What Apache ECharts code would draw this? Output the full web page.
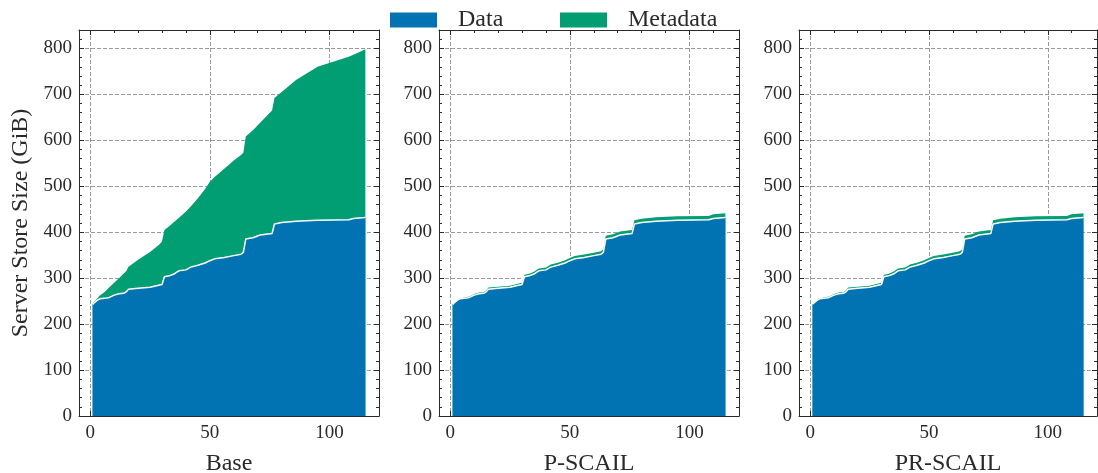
<!DOCTYPE html>
<html>
<head>
<meta charset="utf-8">
<script src="https://cdn.jsdelivr.net/npm/echarts@6/dist/echarts.min.js"></script>
<style>
  html, body { margin: 0; padding: 0; background: #fff; }
  #chartmain { width: 1098px; height: 473px; }
</style>
</head>
<body>
<div id="chartmain"></div>
<script>
// x positions (step index) where the curves were read
var steps = [1, 2, 3, 4, 6, 8, 10, 12, 14, 15, 16, 20, 25, 29, 30, 31, 33, 35, 37, 40,
	42, 45, 48, 50, 52, 56, 60, 63, 64, 65, 68, 71, 76, 77, 80, 86, 95, 108, 110, 115];
// data volume, same in all three panels (GiB)
var dataGiB = [243, 248, 252, 255, 256, 258, 263, 266, 267, 270, 276, 278, 280, 285, 286, 303, 305, 309, 316, 318,
	324, 328, 333, 338, 342, 345, 349, 352, 356, 385, 388, 394, 397, 418, 421, 424, 426, 427, 430, 432];
// metadata on top of data (GiB)
var baseMeta = [2, 3, 4, 7, 14, 22, 27, 34, 43, 45, 49, 62, 77, 89, 94, 102, 108, 113, 115, 127,
	132, 146, 161, 172, 178, 193, 207, 216, 217, 223, 234, 244, 268, 274, 284, 307, 334, 355, 356, 366];
var pscailMeta = [1, 1, 1.5, 1.5, 2, 2, 2.5, 2.5, 3, 3, 3.5, 3.5, 3.5, 4, 4, 4.5, 4.5, 5, 5, 5,
	5.5, 5.5, 6, 6, 6, 6.5, 6.5, 6.5, 7, 7.5, 7.5, 7.5, 8, 8, 8, 8.5, 8.5, 8.5, 9, 9];
var prscailMeta = [1, 1, 1.5, 1.5, 2, 2, 2.5, 2.5, 3, 3, 3.5, 3.5, 3.5, 4, 4, 4.5, 4.5, 5, 5, 5,
	5.5, 5.5, 6, 6, 6, 6.5, 6.5, 6.5, 7, 7.5, 7.5, 7.5, 8, 8, 8, 8.5, 8.5, 8.5, 9, 9];

var panelNames = ['Base', 'P-SCAIL', 'PR-SCAIL'];
var panelMeta = [baseMeta, pscailMeta, prscailMeta];

var xMajorTicks = [0, 50, 100];
var xMinorTicks = [10, 20, 30, 40, 60, 70, 80, 90, 110];
var yMajorTicks = [0, 100, 200, 300, 400, 500, 600, 700, 800];
var yMinorTicks = [20, 40, 60, 80, 120, 140, 160, 180, 220, 240, 260, 280, 320, 340, 360, 380,
	420, 440, 460, 480, 520, 540, 560, 580, 620, 640, 660, 680, 720, 740, 760, 780, 820];

var BLUE = '#0173b2';
var GREEN = '#029e73';
var INK = '#2a2a2a';
var FONT = 'Liberation Serif';

var xMin = -4.7, xMax = 120.7;
var yMin = 0, yMax = 840;

var gridLefts = [79, 439, 799];
var grids = [], xAxes = [], yAxes = [], series = [];

function xAx(gi, extra) {
	var a = {
		gridIndex : gi,
		type : 'value',
		min : xMin,
		max : xMax,
		splitNumber : 2,
		position : 'bottom',
		axisLine : { show : false, onZero : false },
		axisTick : { show : false },
		axisLabel : { show : false },
		splitLine : { show : false }
	};
	return Object.assign(a, extra);
}
function yAx(gi, extra) {
	var a = {
		gridIndex : gi,
		type : 'value',
		min : yMin,
		max : yMax,
		interval : 100,
		position : 'left',
		axisLine : { show : false, onZero : false },
		axisTick : { show : false },
		axisLabel : { show : false },
		splitLine : { show : false }
	};
	return Object.assign(a, extra);
}

var spine = { show : true, onZero : false, lineStyle : { color : INK, width : 1 } };
var dashStyle = { color : '#9a9a9a', width : 1, type : [4, 2] };

for (var gi = 0; gi < 3; gi++) {
	grids.push({
		left : gridLefts[gi],
		top : 30,
		width : gi == 2 ? 298 : 300,
		bottom : 57,
		outerBoundsMode : 'none'
	});

	// x axes: main bottom, bottom minor, top major, top minor, bottom spine over areas
	xAxes.push(xAx(gi, {
		axisTick : { show : true, inside : true, length : 5, customValues : xMajorTicks, lineStyle : { color : INK } },
		axisLabel : { show : true, customValues : xMajorTicks,
			margin : 8, fontFamily : FONT, fontSize : 19, color : INK },
		splitLine : { show : true, lineStyle : dashStyle },
		name : panelNames[gi],
		nameLocation : 'middle',
		nameGap : 36,
		nameTextStyle : { fontFamily : FONT, fontSize : 24, color : INK }
	}));
	xAxes.push(xAx(gi, {
		axisTick : { show : true, inside : true, length : 3, customValues : xMinorTicks, lineStyle : { color : INK } }
	}));
	xAxes.push(xAx(gi, {
		position : 'top',
		axisLine : spine,
		axisTick : { show : true, inside : true, length : 5, customValues : xMajorTicks, lineStyle : { color : INK } }
	}));
	xAxes.push(xAx(gi, {
		position : 'top',
		axisTick : { show : true, inside : true, length : 3, customValues : xMinorTicks, lineStyle : { color : INK } }
	}));
	xAxes.push(xAx(gi, { axisLine : spine, z : 5 }));

	// y axes: main left, left minor, right major, right minor
	yAxes.push(yAx(gi, {
		axisLine : spine,
		axisTick : { show : true, inside : true, length : 5, customValues : yMajorTicks, lineStyle : { color : INK } },
		axisLabel : { show : true, customValues : yMajorTicks,
			margin : 7, fontFamily : FONT, fontSize : 19, color : INK },
		splitLine : { show : true, showMinLine : false, lineStyle : dashStyle },
		name : gi == 0 ? 'Server Store Size (GiB)' : '',
		nameLocation : 'middle',
		nameGap : 46,
		nameTextStyle : { fontFamily : FONT, fontSize : 24, color : INK }
	}));
	yAxes.push(yAx(gi, {
		axisTick : { show : true, inside : true, length : 3, customValues : yMinorTicks, lineStyle : { color : INK } }
	}));
	yAxes.push(yAx(gi, {
		position : 'right',
		axisLine : spine,
		axisTick : { show : true, inside : true, length : 5, customValues : yMajorTicks, lineStyle : { color : INK } }
	}));
	yAxes.push(yAx(gi, {
		position : 'right',
		axisTick : { show : true, inside : true, length : 3, customValues : yMinorTicks, lineStyle : { color : INK } }
	}));

	// metadata sits on top of data: draw the total in green, data in blue over it
	var meta = panelMeta[gi];
	series.push({
		name : 'Metadata',
		type : 'line',
		xAxisIndex : gi * 5,
		yAxisIndex : gi * 4,
		data : steps.map(function(x, i) { return [x, dataGiB[i] + meta[i]]; }),
		symbol : 'none',
		itemStyle : { color : GREEN },
		lineStyle : { width : 0, opacity : 0 },
		areaStyle : { color : GREEN, opacity : 1 },
		z : 2
	});
	series.push({
		name : 'Data',
		type : 'line',
		xAxisIndex : gi * 5,
		yAxisIndex : gi * 4,
		data : steps.map(function(x, i) { return [x, dataGiB[i]]; }),
		symbol : 'none',
		itemStyle : { color : BLUE },
		lineStyle : { color : '#fff', width : 1.5 },
		areaStyle : { color : BLUE, opacity : 1 },
		z : 3
	});
}

var legendText = { fontFamily : FONT, fontSize : 24, color : INK, padding : [0, 0, 0, 16] };
var option = {
	animation : false,
	backgroundColor : '#fff',
	legend : [ {
		data : [ { name : 'Data', itemStyle : { color : BLUE, borderWidth : 0 } } ],
		left : 385, top : 3, itemWidth : 47, itemHeight : 15, icon : 'rect',
		selectedMode : false, textStyle : legendText
	}, {
		data : [ { name : 'Metadata', itemStyle : { color : GREEN, borderWidth : 0 } } ],
		left : 555, top : 3, itemWidth : 47, itemHeight : 15, icon : 'rect',
		selectedMode : false, textStyle : legendText
	} ],
	grid : grids,
	xAxis : xAxes,
	yAxis : yAxes,
	series : series
};

var myChart = echarts.init(document.getElementById('chartmain'));
myChart.setOption(option);
</script>
</body>
</html>
